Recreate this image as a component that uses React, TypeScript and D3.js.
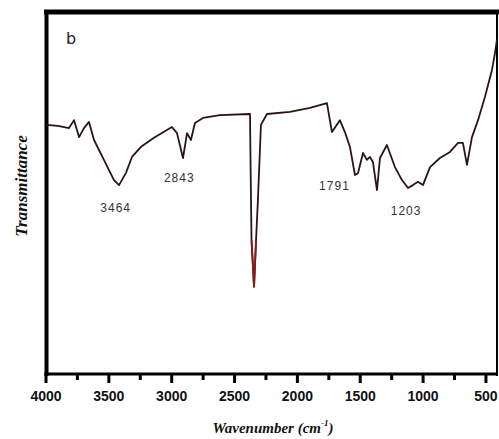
import React from "react";
import * as d3 from "d3";

const wavenumbers = [
  4000, 3905, 3817, 3777, 3737, 3698, 3658, 3618, 3539, 3459, 3419, 3364, 3316, 3244, 3141,
  2998, 2958, 2910, 2878, 2847, 2815, 2751, 2616, 2377, 2373, 2365, 2345, 2329, 2314, 2290,
  2242, 2059, 1900, 1765, 1725, 1662, 1622, 1582, 1542, 1518, 1478, 1447, 1423, 1399, 1367,
  1343, 1288, 1224, 1168, 1120, 1081, 1041, 1001, 945, 866, 786, 722, 683, 651, 611, 563,
  508, 452, 428, 412,
];
const transmittance = [
  69.3, 69.0, 68.4, 70.6, 65.9, 68.4, 70.1, 65.1, 59.6, 54.0, 52.6, 56.0, 60.4, 63.2, 65.7,
  68.7, 67.0, 60.1, 67.0, 65.1, 69.8, 71.2, 72.0, 72.3, 59.6, 37.4, 24.4, 37.4, 48.5, 69.3,
  72.3, 72.9, 74.0, 75.3, 67.3, 70.6, 67.3, 63.2, 55.4, 55.9, 61.5, 59.6, 60.4, 59.0, 51.2,
  60.1, 63.7, 57.6, 54.0, 51.8, 52.6, 53.5, 52.6, 57.6, 60.1, 61.8, 64.3, 64.3, 58.2, 65.9,
  70.6, 77.0, 84.5, 89.2, 93.0,
];
const majorTicks = [4000, 3500, 3000, 2500, 2000, 1500, 1000, 500];
const minorTicks = [3750, 3250, 2750, 2250, 1750, 1250, 750];
const peakLabels = ["3464", "2843", "1791", "1203"];
const peakPositions = [3446, 2940, 1705, 1135];
const peakLevels = [45.2, 53.5, 51.2, 44.3];

export default function App() {
  const W = 499;
  const H = 439;
  const x = d3.scaleLinear().domain([4000, 412]).range([46, 497]);
  const y = d3.scaleLinear().domain([0, 100]).range([375, 14]);
  const pts: [number, number][] = wavenumbers.map((w, i) => [w, transmittance[i]]);
  const line = d3
    .line<[number, number]>()
    .x((d) => x(d[0]))
    .y((d) => y(d[1]));
  const redPts = pts.filter((d) => d[0] <= 2366 && d[0] >= 2329);

  return (
    <svg width={W} height={H} style={{ position: "absolute", left: 0, top: 0 }}>
      <rect x={0} y={0} width={W} height={H} fill="#ffffff" />
      {/* frame */}
      <line x1={44} x2={499} y1={12} y2={12} stroke="#000" strokeWidth={5} />
      <line x1={46.5} x2={46.5} y1={10} y2={376} stroke="#000" strokeWidth={4} />
      <line x1={497} x2={497} y1={10} y2={376} stroke="#000" strokeWidth={2} />
      <line x1={44.5} x2={498} y1={374} y2={374} stroke="#000" strokeWidth={3} />
      {majorTicks.map((t) => (
        <line key={"M" + t} x1={x(t)} x2={x(t)} y1={374} y2={383} stroke="#000" strokeWidth={3} />
      ))}
      {minorTicks.map((t) => (
        <line key={"m" + t} x1={x(t)} x2={x(t)} y1={374} y2={380} stroke="#000" strokeWidth={3} />
      ))}
      {majorTicks.map((t) => (
        <text
          key={"L" + t}
          x={x(t)}
          y={401}
          textAnchor="middle"
          fontFamily="Liberation Sans, Arial, sans-serif"
          fontWeight="bold"
          fontSize={14}
          fill="#111"
        >
          {t}
        </text>
      ))}
      {/* spectrum */}
      <path d={line(pts) ?? ""} fill="none" stroke="#2a1414" strokeWidth={1.8} strokeLinejoin="round" />
      <path d={line(redPts) ?? ""} fill="none" stroke="#8a1a1a" strokeWidth={1.8} />
      {/* peak labels */}
      {peakLabels.map((s, i) => (
        <text
          key={s}
          x={x(peakPositions[i])}
          y={y(peakLevels[i])}
          textAnchor="middle"
          fontFamily="Liberation Sans, Arial, sans-serif"
          fontSize={12}
          letterSpacing={1}
          fill="#333"
        >
          {s}
        </text>
      ))}
      <text x={66} y={44} fontFamily="DejaVu Sans, sans-serif" fontSize={16} fill="#222">
        b
      </text>
      {/* axis titles */}
      <text
        x={273}
        y={433}
        textAnchor="middle"
        fontFamily="Liberation Serif, Times New Roman, serif"
        fontStyle="italic"
        fontWeight="bold"
        fontSize={15}
        fill="#111"
      >
        Wavenumber (cm
        <tspan fontSize={9} dy={-7}>-1</tspan>
        <tspan dy={7}>)</tspan>
      </text>
      <text
        transform="translate(27,186) rotate(-90)"
        textAnchor="middle"
        fontFamily="Liberation Serif, Times New Roman, serif"
        fontStyle="italic"
        fontWeight="bold"
        fontSize={17}
        fill="#111"
      >
        Transmittance
      </text>
    </svg>
  );
}
